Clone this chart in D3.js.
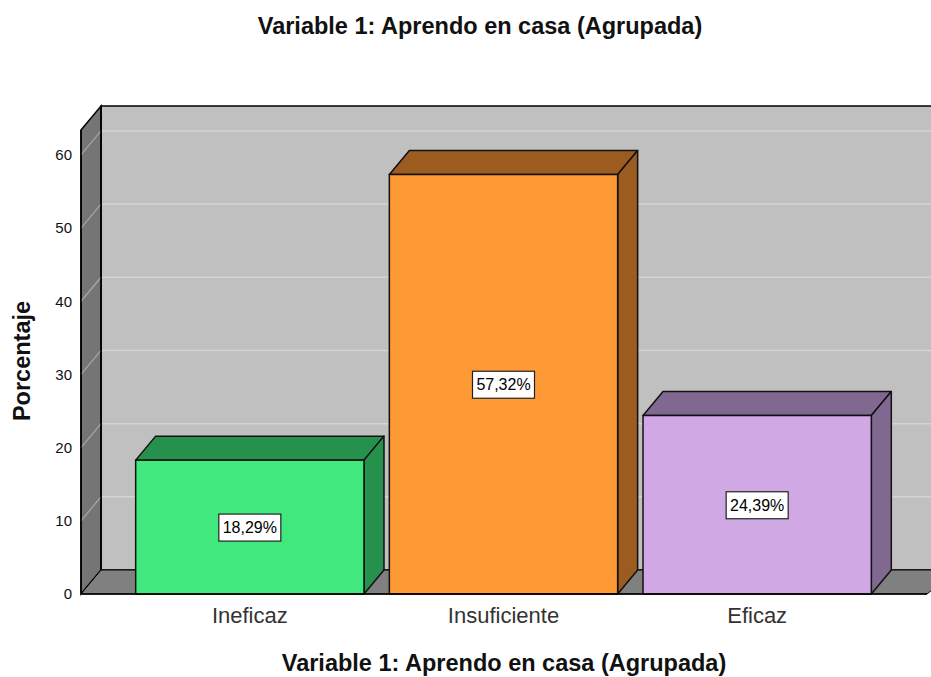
<!DOCTYPE html>
<html>
<head>
<meta charset="utf-8">
<script src="https://cdn.jsdelivr.net/npm/d3@7"></script>
<style>
  body { margin: 0; background: #fff; }
  svg { display: block; font-family: Arial, "Liberation Sans", sans-serif; }
</style>
</head>
<body>
<svg id="SVG_CONTAINER" width="931" height="677"></svg>
<script>
// chart data
const categories = ["Ineficaz", "Insuficiente", "Eficaz"];
const percentages = [18.29, 57.32, 24.39];
const valueLabels = ["18,29%", "57,32%", "24,39%"];
const yTicks = [0, 10, 20, 30, 40, 50, 60];

const frontColors = ["#41e87e", "#fe9a35", "#d0a8e4"];
const darkColors  = ["#26904d", "#9c5b1f", "#806890"];

const width = 931, height = 677;
const DEPTH = { dx: 20, dy: -24 };
const FONT = "Arial, 'Liberation Sans', sans-serif";

const svg = d3.select("#SVG_CONTAINER");

const yScale = d3.scaleLinear()
    .domain([0, 63.4])
    .range([594, 130]);

const xScale = d3.scaleBand()
    .domain(categories)
    .range([123, 884])
    .paddingInner(0.1)
    .paddingOuter(0.05);

const left = 81, right = 927;
const y0 = yScale(0), yTop = yScale(63.4);

// back wall
svg.append("rect")
    .attr("x", left + DEPTH.dx).attr("y", yTop + DEPTH.dy)
    .attr("width", width).attr("height", y0 - yTop)
    .attr("fill", "#c0c0c0")
    .attr("stroke", "#000").attr("stroke-width", 1.5);

// left wall
svg.append("path")
    .attr("d", `M${left},${yTop} L${left + DEPTH.dx},${yTop + DEPTH.dy} L${left + DEPTH.dx},${y0 + DEPTH.dy} L${left},${y0} Z`)
    .attr("fill", "#757575")
    .attr("stroke", "#000").attr("stroke-width", 1.5);

// floor
svg.append("path")
    .attr("d", `M${left},${y0} L${left + DEPTH.dx},${y0 + DEPTH.dy} L${right + DEPTH.dx + 10},${y0 + DEPTH.dy} L${right},${y0} Z`)
    .attr("fill", "#808080")
    .attr("stroke", "#000").attr("stroke-width", 1);

// grid lines on walls
const grid = svg.append("g");
grid.selectAll("line.back")
    .data(yTicks.filter(d => d > 0))
    .enter().append("line")
    .attr("class", "back")
    .attr("x1", left + DEPTH.dx + 1).attr("x2", width)
    .attr("y1", d => yScale(d) + DEPTH.dy).attr("y2", d => yScale(d) + DEPTH.dy)
    .attr("stroke", "#d4d4d4").attr("stroke-width", 1.5);
grid.selectAll("line.side")
    .data(yTicks.filter(d => d > 0))
    .enter().append("line")
    .attr("class", "side")
    .attr("x1", left).attr("x2", left + DEPTH.dx)
    .attr("y1", d => yScale(d)).attr("y2", d => yScale(d) + DEPTH.dy)
    .attr("stroke", "#a8a8a8").attr("stroke-width", 1.2);
svg.append("line")
    .attr("x1", left + DEPTH.dx).attr("x2", left + DEPTH.dx)
    .attr("y1", yTop + DEPTH.dy).attr("y2", y0 + DEPTH.dy)
    .attr("stroke", "#000").attr("stroke-width", 1.5);

// bars
const bars = svg.append("g").attr("class", "bars")
    .selectAll("g")
    .data(categories)
    .enter().append("g");

bars.append("path") // top face
    .attr("d", (d, i) => {
        const x = xScale(d), w = xScale.bandwidth(), y = yScale(percentages[i]);
        return `M${x},${y} L${x + DEPTH.dx},${y + DEPTH.dy} L${x + w + DEPTH.dx},${y + DEPTH.dy} L${x + w},${y} Z`;
    })
    .attr("fill", (d, i) => darkColors[i])
    .attr("stroke", "#111").attr("stroke-width", 1.5).attr("stroke-linejoin", "round");

bars.append("path") // side face
    .attr("d", (d, i) => {
        const x = xScale(d) + xScale.bandwidth(), y = yScale(percentages[i]);
        return `M${x},${y} L${x + DEPTH.dx},${y + DEPTH.dy} L${x + DEPTH.dx},${y0 + DEPTH.dy} L${x},${y0} Z`;
    })
    .attr("fill", (d, i) => darkColors[i])
    .attr("stroke", "#111").attr("stroke-width", 1.5).attr("stroke-linejoin", "round");

bars.append("rect") // front face
    .attr("x", d => xScale(d))
    .attr("y", (d, i) => yScale(percentages[i]))
    .attr("width", xScale.bandwidth())
    .attr("height", (d, i) => y0 - yScale(percentages[i]))
    .attr("fill", (d, i) => frontColors[i])
    .attr("stroke", "#111").attr("stroke-width", 1.5);

// value labels
const labels = bars.append("g")
    .attr("transform", (d, i) => `translate(${xScale(d) + xScale.bandwidth() / 2},${(yScale(percentages[i]) + y0) / 2})`);
labels.append("rect")
    .attr("x", -31).attr("y", -13).attr("width", 62).attr("height", 27)
    .attr("fill", "#fff").attr("stroke", "#222").attr("stroke-width", 1.2);
labels.append("text")
    .attr("text-anchor", "middle").attr("dy", "0.36em")
    .attr("font-size", "16px").attr("fill", "#000")
    .text((d, i) => valueLabels[i]);

// axes lines
svg.append("line")
    .attr("x1", left).attr("x2", left).attr("y1", yTop).attr("y2", y0)
    .attr("stroke", "#000").attr("stroke-width", 1.5);
svg.append("line")
    .attr("x1", left).attr("x2", right).attr("y1", y0).attr("y2", y0)
    .attr("stroke", "#000").attr("stroke-width", 1.5);

// y axis
const yAxis = d3.axisLeft(yScale).tickValues(yTicks).tickSize(0).tickPadding(9);
svg.append("g")
    .attr("transform", `translate(${left},0)`)
    .call(yAxis)
    .call(g => g.select(".domain").remove())
    .selectAll("text")
    .attr("font-size", "15px").attr("font-family", FONT).attr("fill", "#111");

// x axis
const xAxis = d3.axisBottom(xScale).tickSize(0).tickPadding(13);
svg.append("g")
    .attr("transform", `translate(0,${y0})`)
    .call(xAxis)
    .call(g => g.select(".domain").remove())
    .selectAll("text")
    .attr("font-size", "22px").attr("font-family", FONT).attr("fill", "#333");

// titles
svg.append("text")
    .attr("x", 480).attr("y", 34)
    .attr("text-anchor", "middle")
    .attr("font-size", "23.5px").attr("font-weight", "bold").attr("fill", "#111")
    .text("Variable 1: Aprendo en casa (Agrupada)");

svg.append("text")
    .attr("x", 504).attr("y", 671)
    .attr("text-anchor", "middle")
    .attr("font-size", "23.5px").attr("font-weight", "bold").attr("fill", "#111")
    .text("Variable 1: Aprendo en casa (Agrupada)");

svg.append("text")
    .attr("transform", "translate(30,361) rotate(-90)")
    .attr("text-anchor", "middle")
    .attr("font-size", "23.5px").attr("font-weight", "bold").attr("fill", "#111")
    .text("Porcentaje");
</script>
</body>
</html>
